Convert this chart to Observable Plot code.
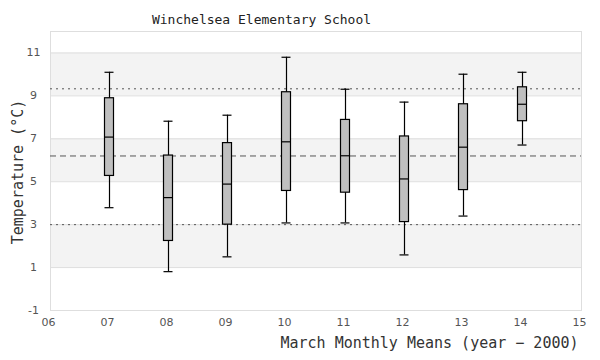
<!DOCTYPE html>
<html>
<head>
<meta charset="utf-8">
<script src="https://cdn.jsdelivr.net/npm/d3@7"></script>
<script src="https://cdn.jsdelivr.net/npm/@observablehq/plot@0.6"></script>
<style>
  html, body { margin: 0; padding: 0; background: #fff; }
  #chart svg { display: block; }
</style>
</head>
<body>
<div id="chart"></div>
<script>
const title = "Winchelsea Elementary School";
const xLabel = "March Monthly Means (year \u2212 2000)";
const yLabel = "Temperature (\u00b0C)";

const years       = [7, 8, 9, 10, 11, 12, 13, 14];
const whiskerLow  = [3.79, 0.81, 1.50, 3.08, 3.08, 1.59, 3.40, 6.71];
const q1          = [5.27, 2.24, 3.00, 4.57, 4.49, 3.12, 4.61, 7.82];
const median      = [7.08, 4.26, 4.89, 6.86, 6.21, 5.13, 6.61, 8.61];
const q3          = [8.89, 6.22, 6.80, 9.17, 7.88, 7.11, 8.61, 9.40];
const whiskerHigh = [10.10, 7.82, 8.10, 10.80, 9.31, 8.71, 10.01, 10.10];

const meanLine = [6.2];
const limitLines = [9.33, 3.0];

const bandLow  = [1, 5, 9];
const bandHigh = [3, 7, 11];
const yTicks = [-1, 1, 3, 5, 7, 9, 11];
const xTicks = [6, 7, 8, 9, 10, 11, 12, 13, 14, 15];

const boxes = years.map((y, i) => ({year: y, lo: whiskerLow[i], q1: q1[i], med: median[i], q3: q3[i], hi: whiskerHigh[i]}));
const bands = bandLow.map((b, i) => ({y1: b, y2: bandHigh[i]}));

const mono = "DejaVu Sans Mono";
const sans = "DejaVu Sans";
const half = -4.5;

const chart = Plot.plot({
  width: 600,
  height: 360,
  marginTop: 31,
  marginBottom: 50,
  marginLeft: 50,
  marginRight: 19,
  style: {fontFamily: sans, fontSize: "11px", background: "#fff"},
  x: {domain: [6, 15], axis: null},
  y: {domain: [-1, 12], axis: null},
  marks: [
    Plot.rect(bands, {y1: "y1", y2: "y2", fill: "#f3f3f3"}),
    Plot.ruleY(yTicks, {stroke: "#dedede"}),
    Plot.frame({stroke: "#dedede"}),
    Plot.ruleY(limitLines, {stroke: "#555", strokeDasharray: "2,4"}),
    Plot.ruleY(meanLine, {stroke: "#555", strokeDasharray: "6,4"}),
    Plot.ruleX(boxes, {x: "year", y1: "lo", y2: "hi", stroke: "#000", strokeWidth: 1.2}),
    Plot.rect(boxes, {x1: "year", x2: "year", y1: "q1", y2: "q3", insetLeft: half, insetRight: half, fill: "#bfbfbf", stroke: "#000", strokeWidth: 1.2}),
    Plot.ruleY(boxes, {y: "med", x1: "year", x2: "year", insetLeft: half, insetRight: half, stroke: "#000", strokeWidth: 1.2}),
    Plot.ruleY(boxes, {y: "hi", x1: "year", x2: "year", insetLeft: half, insetRight: half, stroke: "#000", strokeWidth: 1.2}),
    Plot.ruleY(boxes, {y: "lo", x1: "year", x2: "year", insetLeft: half, insetRight: half, stroke: "#000", strokeWidth: 1.2}),
    Plot.text(yTicks, {y: d => d, text: d => String(d), frameAnchor: "left", dx: -17, textAnchor: "middle", fill: "#555", fontFamily: sans, fontSize: 11}),
    Plot.text(xTicks, {x: d => d, text: d => String(d).padStart(2, "0"), frameAnchor: "bottom", dx: -2, dy: 15, textAnchor: "middle", fill: "#555", fontFamily: sans, fontSize: 11}),
    Plot.text([title], {text: d => d, frameAnchor: "top-left", dx: 211, dy: -17, textAnchor: "middle", fill: "#222", fontFamily: mono, fontSize: 13}),
    Plot.text([xLabel], {text: d => d, frameAnchor: "bottom-right", dx: -3, dy: 37, textAnchor: "end", fill: "#333", fontFamily: mono, fontSize: 15}),
    Plot.text([yLabel], {text: d => d, frameAnchor: "left", dx: -32, dy: 1, rotate: -90, textAnchor: "middle", fill: "#333", fontFamily: mono, fontSize: 15})
  ]
});
document.getElementById("chart").appendChild(chart);
</script>
</body>
</html>
